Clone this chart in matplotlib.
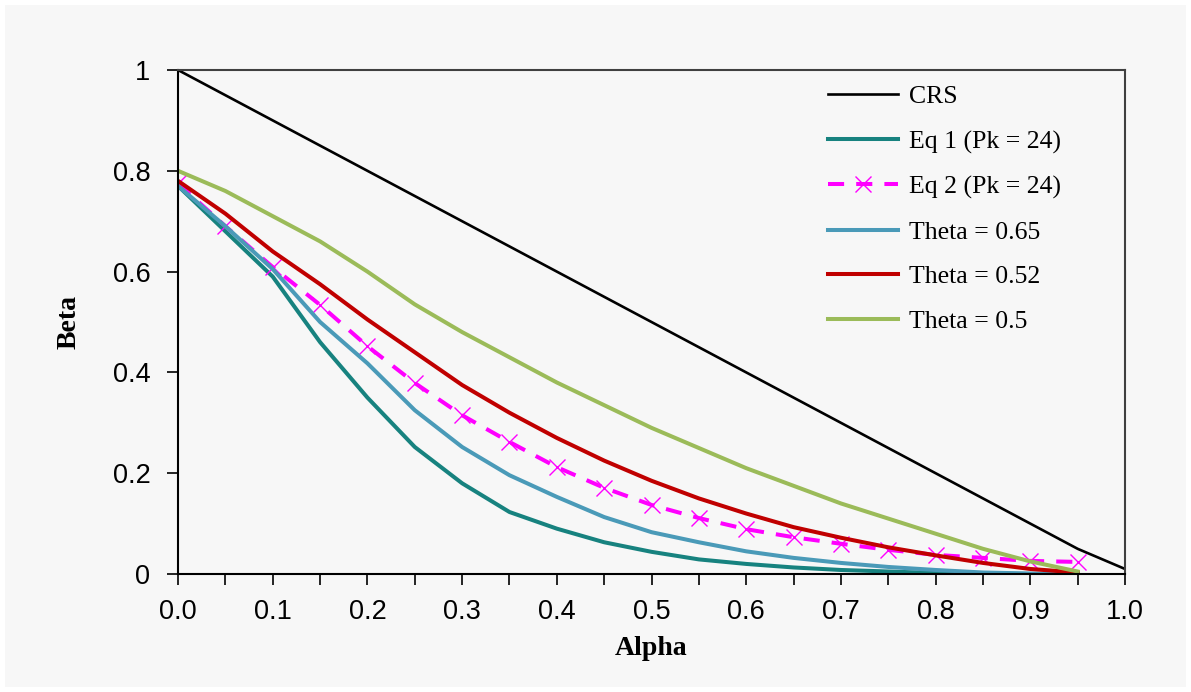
import numpy as np
import matplotlib
matplotlib.use("Agg")
import matplotlib.pyplot as plt
from matplotlib.ticker import MultipleLocator

# values
alpha = [0.0, 0.05, 0.1, 0.15, 0.2, 0.25, 0.3, 0.35, 0.4, 0.45,
         0.5, 0.55, 0.6, 0.65, 0.7, 0.75, 0.8, 0.85, 0.9, 0.95]
alpha_crs = alpha + [1.0]

crs = [1.0, 0.95, 0.9, 0.85, 0.8, 0.75, 0.7, 0.65, 0.6, 0.55,
       0.5, 0.45, 0.4, 0.35, 0.3, 0.25, 0.2, 0.15, 0.1, 0.05, 0.01]
eq1 = [0.77, 0.68, 0.59, 0.46, 0.35, 0.252, 0.18, 0.123, 0.09, 0.063,
       0.044, 0.029, 0.02, 0.013, 0.008, 0.005, 0.002, 0.001, 0.0, 0.0]
eq2 = [0.775, 0.69, 0.609, 0.534, 0.452, 0.379, 0.315, 0.262, 0.212, 0.171,
       0.137, 0.111, 0.089, 0.073, 0.06, 0.048, 0.038, 0.032, 0.026, 0.024]
theta_065 = [0.77, 0.69, 0.605, 0.50, 0.418, 0.325, 0.252, 0.196, 0.153, 0.113,
             0.083, 0.063, 0.045, 0.032, 0.022, 0.014, 0.008, 0.003, 0.001, 0.0]
theta_052 = [0.78, 0.715, 0.64, 0.575, 0.505, 0.44, 0.375, 0.32, 0.27, 0.225,
             0.185, 0.15, 0.12, 0.093, 0.072, 0.053, 0.037, 0.022, 0.01, 0.003]
theta_05 = [0.80, 0.76, 0.71, 0.66, 0.60, 0.535, 0.48, 0.43, 0.38, 0.335,
            0.29, 0.25, 0.21, 0.175, 0.14, 0.11, 0.08, 0.05, 0.025, 0.005]

bg = "#f7f7f7"
serif = ["Liberation Serif", "DejaVu Serif"]
sans = ["Liberation Sans", "DejaVu Sans"]


def ylab(v, p):
    v = round(v, 2)
    if v == 0 or v == 1:
        return str(int(v))
    return f"{v:.1f}"


fig = plt.figure(figsize=(11.91, 6.92), dpi=100)
fig.patch.set_facecolor(bg)
fig.patch.set_edgecolor("white")
fig.patch.set_linewidth(6)
ax = fig.add_axes([0.1495, 0.1705, 0.9446 - 0.1495, 0.8988 - 0.1705])
ax.set_facecolor(bg)

ax.plot(alpha_crs, crs, color="black", lw=1.9, label="CRS")
ax.plot(alpha, eq1, color="#17827f", lw=2.9, label="Eq 1 (Pk = 24)")
ax.plot(alpha, eq2, color="#ff00ff", lw=2.9, ls=(0, (4, 3)), marker="x",
        ms=11, mew=1.0, label="Eq 2 (Pk = 24)")
ax.plot(alpha, theta_065, color="#4a9ab8", lw=2.9, label="Theta = 0.65")
ax.plot(alpha, theta_052, color="#c00000", lw=2.9, label="Theta = 0.52")
ax.plot(alpha, theta_05, color="#9bbb59", lw=2.9, label="Theta = 0.5")

ax.set_xlim(0, 1)
ax.set_ylim(0, 1)
ax.xaxis.set_major_locator(MultipleLocator(0.1))
ax.xaxis.set_minor_locator(MultipleLocator(0.05))
ax.yaxis.set_major_locator(MultipleLocator(0.2))
ax.xaxis.set_major_formatter(plt.FuncFormatter(lambda v, p: f"{v:.1f}"))
ax.yaxis.set_major_formatter(plt.FuncFormatter(ylab))

ax.tick_params(axis="both", which="both", direction="out", length=8, width=1.2,
               color="black", top=False, right=False)
ax.tick_params(axis="x", which="major", pad=10)
ax.tick_params(axis="y", which="major", pad=12)
for lab in ax.get_xticklabels() + ax.get_yticklabels():
    lab.set_family(sans)
    lab.set_fontsize(19.5)

for s in ["left", "bottom"]:
    ax.spines[s].set_color("black")
    ax.spines[s].set_linewidth(1.5)
for s in ["top", "right"]:
    ax.spines[s].set_color("#404040")
    ax.spines[s].set_linewidth(1.5)

ax.set_xlabel("Alpha", family=serif, fontweight="bold", fontsize=20, labelpad=8)
ax.set_ylabel("Beta", family=serif, fontweight="bold", fontsize=20, labelpad=22)

leg = ax.legend(loc="upper right", bbox_to_anchor=(0.943, 0.99), frameon=False,
                prop={"family": serif, "size": 18.5}, handlelength=2.75,
                handletextpad=0.4, labelspacing=0.85, borderaxespad=0)

fig.savefig("out.png", dpi=100, facecolor=fig.get_facecolor(), edgecolor="white")
